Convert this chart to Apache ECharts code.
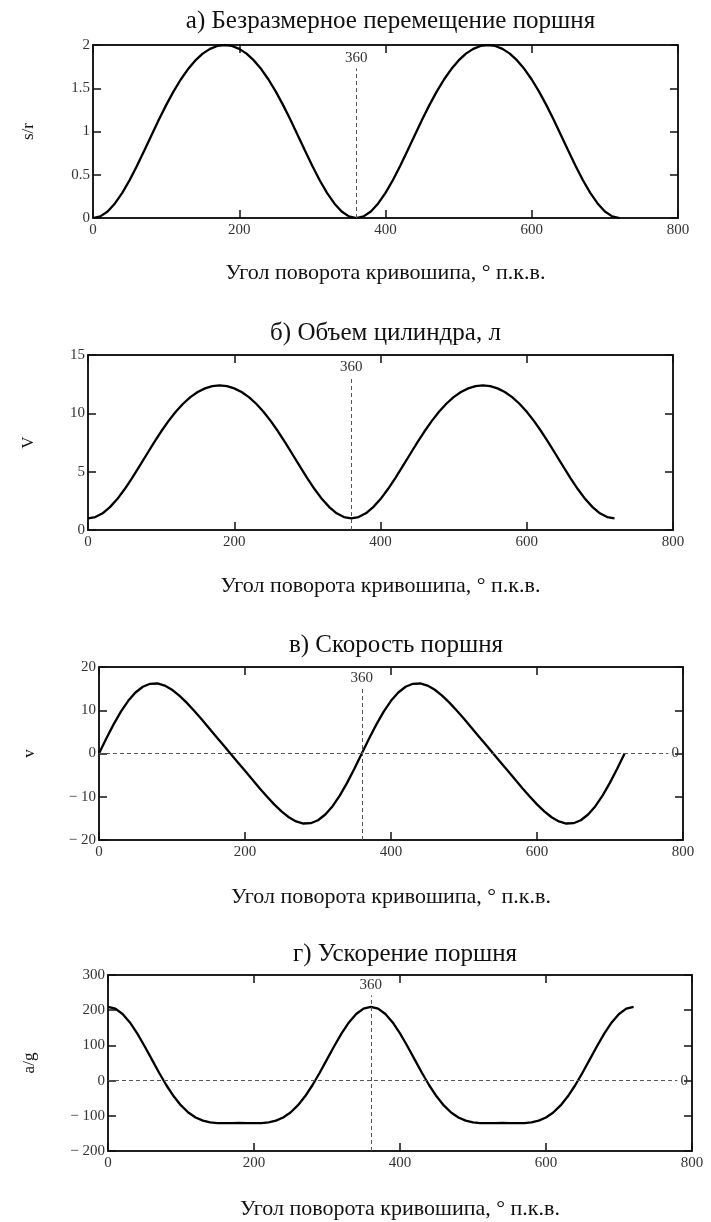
<!DOCTYPE html>
<html>
<head>
<meta charset="utf-8">
<script src="https://cdn.jsdelivr.net/npm/echarts@6/dist/echarts.min.js"></script>
<style>
  html, body { margin: 0; padding: 0; background: #fff; }
  #chart { width: 711px; height: 1222px; }
</style>
</head>
<body>
<div id="chart"></div>
<script>
// Crank angle, degrees (step 10)
const angles = [];
for (let a = 0; a <= 720; a += 10) angles.push(a);

// а) dimensionless piston displacement s/r
const displacement = [
  0, 0.019, 0.076, 0.168, 0.290, 0.436, 0.601, 0.777, 0.957, 1.135, 1.305, 1.461, 1.601, 1.722, 1.822, 1.900, 1.955, 1.989,
  2.000, 1.989, 1.955, 1.900, 1.822, 1.722, 1.601, 1.461, 1.305, 1.135, 0.957, 0.777, 0.601, 0.436, 0.290, 0.168, 0.076, 0.019,
  0, 0.019, 0.076, 0.168, 0.290, 0.436, 0.601, 0.777, 0.957, 1.135, 1.305, 1.461, 1.601, 1.722, 1.822, 1.900, 1.955, 1.989,
  2.000, 1.989, 1.955, 1.900, 1.822, 1.722, 1.601, 1.461, 1.305, 1.135, 0.957, 0.777, 0.601, 0.436, 0.290, 0.168, 0.076, 0.019, 0
];

// б) cylinder volume, l
const volume = [
  1.00, 1.11, 1.43, 1.96, 2.65, 3.49, 4.43, 5.43, 6.45, 7.47, 8.44, 9.33, 10.13, 10.82, 11.39, 11.83, 12.14, 12.34,
  12.40, 12.34, 12.14, 11.83, 11.39, 10.82, 10.13, 9.33, 8.44, 7.47, 6.45, 5.43, 4.43, 3.49, 2.65, 1.96, 1.43, 1.11,
  1.00, 1.11, 1.43, 1.96, 2.65, 3.49, 4.43, 5.43, 6.45, 7.47, 8.44, 9.33, 10.13, 10.82, 11.39, 11.83, 12.14, 12.34,
  12.40, 12.34, 12.14, 11.83, 11.39, 10.82, 10.13, 9.33, 8.44, 7.47, 6.45, 5.43, 4.43, 3.49, 2.65, 1.96, 1.43, 1.11, 1.00
];

// в) piston speed, m/s
const velocity = [
  0, 3.45, 6.73, 9.69, 12.18, 14.11, 15.43, 16.12, 16.19, 15.70, 14.74, 13.39, 11.76, 9.94, 8.01, 6.01, 4.01, 2.00,
  0, -2.00, -4.01, -6.01, -8.01, -9.94, -11.76, -13.39, -14.74, -15.70, -16.19, -16.12, -15.43, -14.11, -12.18, -9.69, -6.73, -3.45,
  0, 3.45, 6.73, 9.69, 12.18, 14.11, 15.43, 16.12, 16.19, 15.70, 14.74, 13.39, 11.76, 9.94, 8.01, 6.01, 4.01, 2.00,
  0, -2.00, -4.01, -6.01, -8.01, -9.94, -11.76, -13.39, -14.74, -15.70, -16.19, -16.12, -15.43, -14.11, -12.18, -9.69, -6.73, -3.45, 0
];

// г) piston acceleration, a/g
const acceleration = [
  209.6, 204.4, 189.2, 165.2, 134.1, 98.3, 60.2, 22.3, -13.2, -44.6, -70.5, -90.6, -104.8, -113.8, -118.7, -120.6, -120.9, -120.6,
  -120.5, -120.6, -120.9, -120.6, -118.7, -113.8, -104.8, -90.6, -70.5, -44.6, -13.2, 22.3, 60.2, 98.3, 134.1, 165.2, 189.2, 204.4,
  209.6, 204.4, 189.2, 165.2, 134.1, 98.3, 60.2, 22.3, -13.2, -44.6, -70.5, -90.6, -104.8, -113.8, -118.7, -120.6, -120.9, -120.6,
  -120.5, -120.6, -120.9, -120.6, -118.7, -113.8, -104.8, -90.6, -70.5, -44.6, -13.2, 22.3, 60.2, 98.3, 134.1, 165.2, 189.2, 204.4, 209.6
];

const titles = [
  'а) Безразмерное перемещение поршня',
  'б) Объем цилиндра, л',
  'в) Скорость поршня',
  'г) Ускорение поршня'
];
const yNames = ['s/r', 'V', 'v', 'a/g'];
const xName = 'Угол поворота кривошипа, ° п.к.в.';
const yMin = [0, 0, -20, -200];
const yMax = [2, 15, 20, 300];
const yStep = [0.5, 5, 10, 100];
const xMin = 0, xMax = 800, xStep = 200;
const markAngle = 360;
const markAngleTop = [1.73, 13.1, 14.9, 242];   // where the 360° marker line ends, below its label
const zeroLine = [false, false, true, true];
const seriesValues = [displacement, volume, velocity, acceleration];

// Layout of the four panels
const grids = [
  { left: 93, right: 33, top: 45, height: 173 },
  { left: 88, right: 38, top: 355, height: 175 },
  { left: 99, right: 28, top: 667, height: 173 },
  { left: 108, right: 19, top: 975, height: 176 }
];
const titleTop = [4, 316, 628, 937];
const yNameGap = [56, 51, 61, 70];
const xNameGap = [44, 45, 46, 47];

const FONT = 'Liberation Serif';
const minus = v => String(v).replace('-', '\u2212 ');

const option = {
  backgroundColor: '#fff',
  animation: false,
  title: [], grid: [], xAxis: [], yAxis: [], series: []
};

grids.forEach((g, i) => {
  option.grid.push({
    left: g.left, right: g.right, top: g.top, height: g.height,
    show: true, borderColor: '#111', borderWidth: 1.5, backgroundColor: 'transparent'
  });
  option.title.push({
    text: titles[i],
    left: g.left + (711 - g.left - g.right) / 2,
    top: titleTop[i],
    textAlign: 'center',
    textStyle: { fontFamily: FONT, fontSize: 25, fontWeight: 'normal', color: '#111' }
  });
  // bottom x axis with labels
  option.xAxis.push({
    type: 'value', gridIndex: i, min: xMin, max: xMax, interval: xStep,
    position: 'bottom',
    name: xName, nameLocation: 'middle', nameGap: xNameGap[i],
    nameTextStyle: { fontFamily: FONT, fontSize: 22, color: '#111' },
    axisLine: { show: true, onZero: false, lineStyle: { color: '#111', width: 1.5 } },
    axisTick: { show: true, inside: true, length: 8, lineStyle: { color: '#111', width: 1.5 } },
    axisLabel: { fontFamily: FONT, fontSize: 15, color: '#333', margin: 5 },
    splitLine: { show: false }
  });
  // top x axis: ticks only
  option.xAxis.push({
    type: 'value', gridIndex: i, min: xMin, max: xMax, interval: xStep,
    position: 'top',
    axisLine: { show: true, onZero: false, lineStyle: { color: '#111', width: 1.5 } },
    axisTick: { show: true, inside: true, length: 8, lineStyle: { color: '#111', width: 1.5 } },
    axisLabel: { show: false },
    splitLine: { show: false }
  });
  // left y axis with labels
  option.yAxis.push({
    type: 'value', gridIndex: i, min: yMin[i], max: yMax[i], interval: yStep[i],
    position: 'left',
    name: yNames[i], nameLocation: 'middle', nameGap: yNameGap[i],
    nameTextStyle: { fontFamily: FONT, fontSize: 17, color: '#111' },
    axisLine: { show: true, onZero: false, lineStyle: { color: '#111', width: 1.5 } },
    axisTick: { show: true, inside: true, length: 8, lineStyle: { color: '#111', width: 1.5 } },
    axisLabel: { fontFamily: FONT, fontSize: 15, color: '#333', margin: 3, formatter: minus },
    splitLine: { show: false }
  });
  // right y axis: ticks only
  option.yAxis.push({
    type: 'value', gridIndex: i, min: yMin[i], max: yMax[i], interval: yStep[i],
    position: 'right',
    axisLine: { show: true, onZero: false, lineStyle: { color: '#111', width: 1.5 } },
    axisTick: { show: true, inside: true, length: 8, lineStyle: { color: '#111', width: 1.5 } },
    axisLabel: { show: false },
    splitLine: { show: false }
  });

  const markData = [[
    { coord: [markAngle, yMin[i]] },
    { coord: [markAngle, markAngleTop[i]], label: { show: true, formatter: String(markAngle), position: 'end', distance: 3 } }
  ]];
  if (zeroLine[i]) {
    markData.push([
      { coord: [xMin, 0] },
      { coord: [780, 0], label: { show: true, formatter: '0', position: 'end', distance: 3 } }
    ]);
  }

  option.series.push({
    type: 'line',
    xAxisIndex: 2 * i, yAxisIndex: 2 * i,
    data: angles.map((a, k) => [a, seriesValues[i][k]]),
    showSymbol: false,
    lineStyle: { color: '#000', width: 2.3 },
    itemStyle: { color: '#000' },
    markLine: {
      silent: true, symbol: 'none', animation: false,
      lineStyle: { color: '#555', width: 1, type: [4, 3] },
      label: { fontFamily: FONT, fontSize: 15, color: '#333' },
      data: markData
    }
  });
});

const chart = echarts.init(document.getElementById('chart'), null, { renderer: 'canvas' });
chart.setOption(option);
</script>
</body>
</html>
